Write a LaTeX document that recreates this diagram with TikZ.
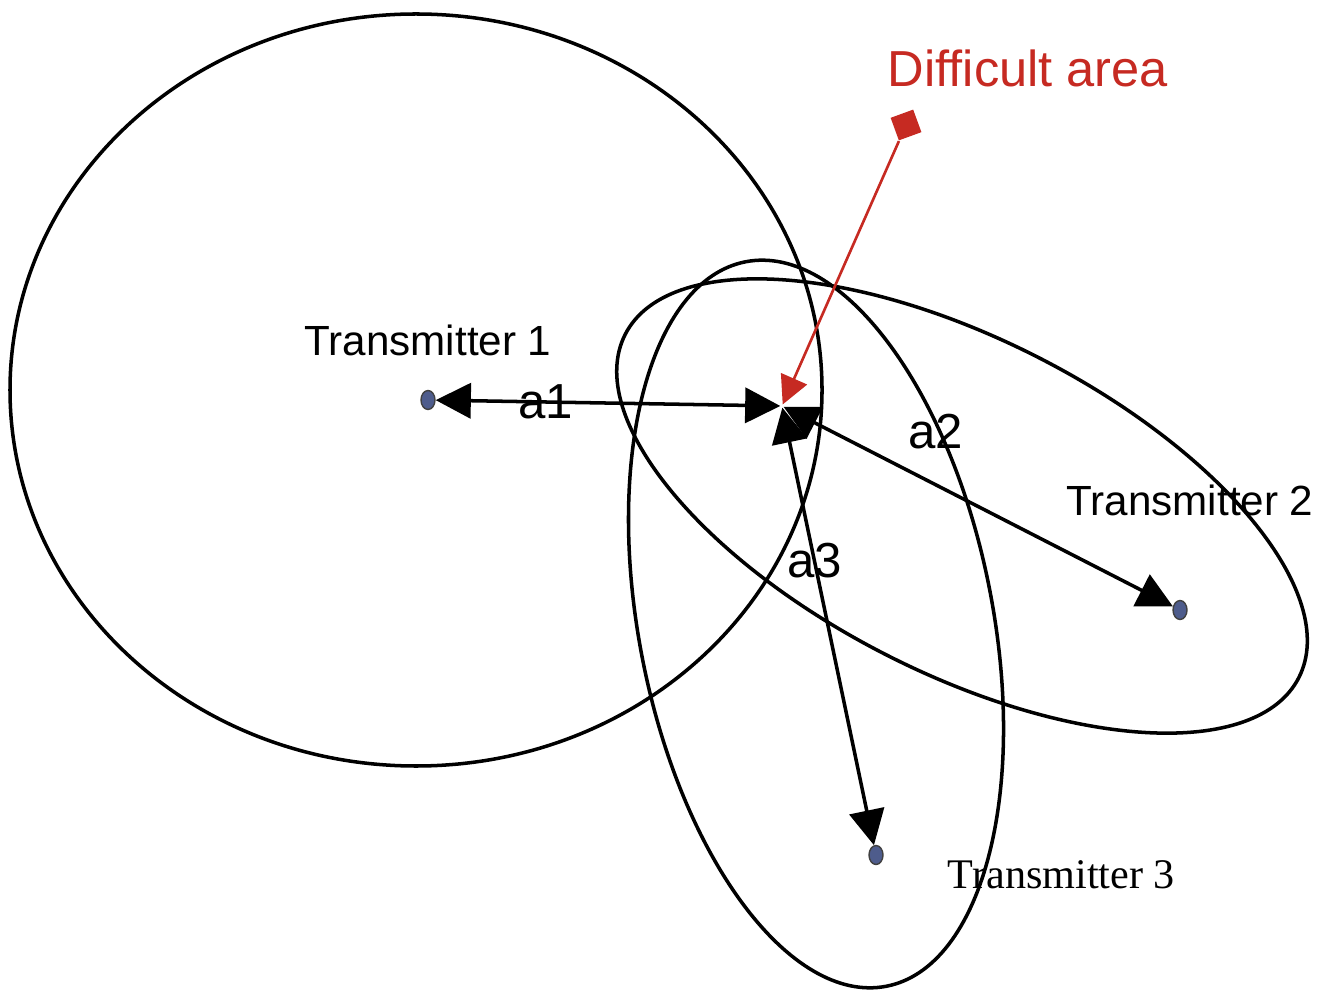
\documentclass[tikz,border=0pt]{standalone}
\usepackage{fontspec}
\setmainfont{Liberation Sans}
\newfontfamily\timesfont{Liberation Serif}
\usetikzlibrary{arrows.meta, positioning, shapes.geometric}
\definecolor{AreaRed}{HTML}{C62A22}
\definecolor{DotBlue}{HTML}{4E5C8C}
\tikzset{
  zone/.style={draw=black, line width=1pt},
  txdot/.style={ellipse, draw=black!75, fill=DotBlue, inner sep=0pt,
    minimum width=0.14cm, minimum height=0.19cm},
  hub/.style={circle, inner sep=0pt, minimum size=0.02cm},
  spotmark/.style={rectangle, fill=AreaRed, inner sep=0pt, minimum size=0.24cm},
  txname/.style={font=\fontsize{12}{14}\selectfont, inner sep=1pt},
  dist/.style={font=\fontsize{14}{16}\selectfont, inner sep=1pt},
  link/.style={{Triangle[length=10pt,width=10pt]}-{Triangle[length=10pt,width=10pt]},
    line width=1pt},
  pointer/.style={-{Triangle[length=8pt,width=8pt]}, line width=0.75pt, draw=AreaRed},
}
\begin{document}
\begin{tikzpicture}
  \useasboundingbox (0,0) rectangle (13.32,9.93);
  % coverage of each transmitter
  \draw[zone] (4.16,6.03) ellipse [x radius=4.06, y radius=3.76];
  \draw[zone] (9.62,4.87) ellipse [x radius=3.78, y radius=1.67, rotate=-27];
  \draw[zone] (8.16,3.69) ellipse [x radius=1.77, y radius=3.69, rotate=11];

  \node[txdot] (t1) at (4.28,5.93) {};
  \node[txdot] (t2) at (11.80,3.83) {};
  \node[txdot] (t3) at (8.76,1.38) {};
  \node[hub] (ctr) at (7.82,5.87) {};
  \node[spotmark, rotate=20] (spot) at (9.06,8.68) {};

  \node[txname, above=0.3cm of t1] (lab1) {Transmitter 1};
  \node[txname, above=0.8cm of t2, xshift=0.1cm] (lab2) {Transmitter 2};
  \node[txname, font=\timesfont\fontsize{12}{14}\selectfont, right=0.6cm of t3,
    yshift=-0.2cm] (lab3) {Transmitter 3};
  \node[font=\fontsize{14.4}{16}\selectfont, text=AreaRed] (area) at (10.28,9.25)
    {Difficult area};

  \draw[link] (t1) -- node[dist, pos=0.32] (la1) {a1} (ctr);
  \draw[link] (ctr) -- node[dist, pos=0.39, above=0.3cm] (la2) {a2} (t2);
  \draw[link] (ctr) -- node[dist, pos=0.35] (la3) {a3} (t3);
  \draw[pointer] (spot) -- (ctr);
\end{tikzpicture}
\end{document}
